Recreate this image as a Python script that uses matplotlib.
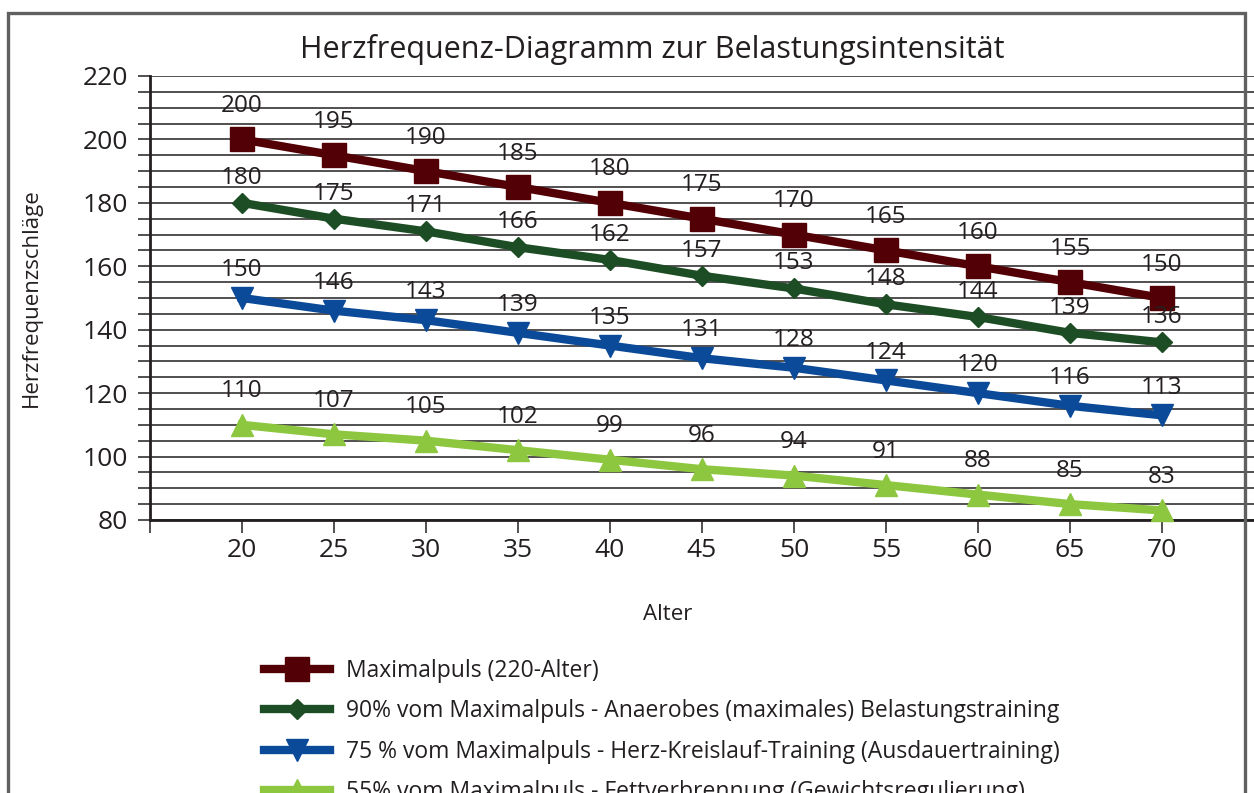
import matplotlib.pyplot as plt
from matplotlib.patches import Rectangle
from matplotlib.ticker import MultipleLocator

plt.rcParams['font.family'] = ['Open Sans', 'DejaVu Sans']

# Data
alter = [20, 25, 30, 35, 40, 45, 50, 55, 60, 65, 70]
maximalpuls = [200, 195, 190, 185, 180, 175, 170, 165, 160, 155, 150]
puls_90 = [180, 175, 171, 166, 162, 157, 153, 148, 144, 139, 136]
puls_75 = [150, 146, 143, 139, 135, 131, 128, 124, 120, 116, 113]
puls_55 = [110, 107, 105, 102, 99, 96, 94, 91, 88, 85, 83]

labels = [
    'Maximalpuls (220-Alter)',
    '90% vom Maximalpuls - Anaerobes (maximales) Belastungstraining',
    '75 % vom Maximalpuls - Herz-Kreislauf-Training (Ausdauertraining)',
    '55% vom Maximalpuls - Fettverbrennung (Gewichtsregulierung)',
]

# values, colour, marker, marker size, label offset (pt)
series = [
    (maximalpuls, '#520005', 's', 17, 24),
    (puls_90, '#1d4d24', 'D', 10, 18),
    (puls_75, '#0b4a98', 'v', 16, 20),
    (puls_55, '#8dc63f', '^', 16, 24),
]

fig = plt.figure(figsize=(12.54, 7.93), dpi=100)
ax = fig.add_axes([0.1196, 0.3443, 0.8804, 0.5599])

for (vals, color, marker, ms, off), label in zip(series, labels):
    ax.plot(alter, vals, color=color, lw=6, marker=marker, ms=ms,
            label=label, zorder=3, clip_on=False)
    for x, v in zip(alter, vals):
        ax.annotate(str(v), (x, v), xytext=(0, off), textcoords='offset points',
                    ha='center', va='center', fontsize=17.5, color='#231f20',
                    zorder=4)

ax.set_xlim(15, 75)
ax.set_ylim(80, 220)
ax.set_xticks([15] + alter)
ax.set_xticklabels([''] + [str(a) for a in alter])
ax.yaxis.set_major_locator(MultipleLocator(20))
ax.yaxis.set_minor_locator(MultipleLocator(5))
ax.grid(axis='y', which='both', color='#231f20', lw=1.1, zorder=1)
ax.tick_params(axis='y', which='both', length=9, width=1.1, color='#231f20',
               labelsize=19, labelcolor='#231f20', pad=7)
ax.tick_params(axis='x', length=9, width=1.1, color='#231f20',
               labelsize=19, labelcolor='#231f20', pad=4)

for side in ['top', 'right']:
    ax.spines[side].set_visible(False)
ax.spines['left'].set_linewidth(2)
ax.spines['bottom'].set_linewidth(2)
ax.spines['left'].set_color('#231f20')
ax.spines['bottom'].set_color('#231f20')

ax.set_xlabel('Alter', fontsize=16, color='#231f20')
ax.xaxis.set_label_coords(0.469, -0.19)
ax.set_ylabel('Herzfrequenzschläge', fontsize=16, color='#231f20', labelpad=29)

fig.text(0.52, 0.937, 'Herzfrequenz-Diagramm zur Belastungsintensität',
         ha='center', va='center', fontsize=22, color='#231f20')

ax.legend(loc='upper left', bbox_to_anchor=(0.203, 0.181),
          bbox_transform=fig.transFigure, frameon=False, fontsize=16.5,
          handlelength=2.9, handletextpad=0.7, labelspacing=0.72,
          labelcolor='#231f20', borderaxespad=0)

frame = Rectangle((0.0065, -0.1), 0.986, 1.083, transform=fig.transFigure,
                  fill=False, edgecolor='#5f6062', lw=2.4, clip_on=False)
fig.patches.append(frame)

fig.savefig('out.png', dpi=100)
